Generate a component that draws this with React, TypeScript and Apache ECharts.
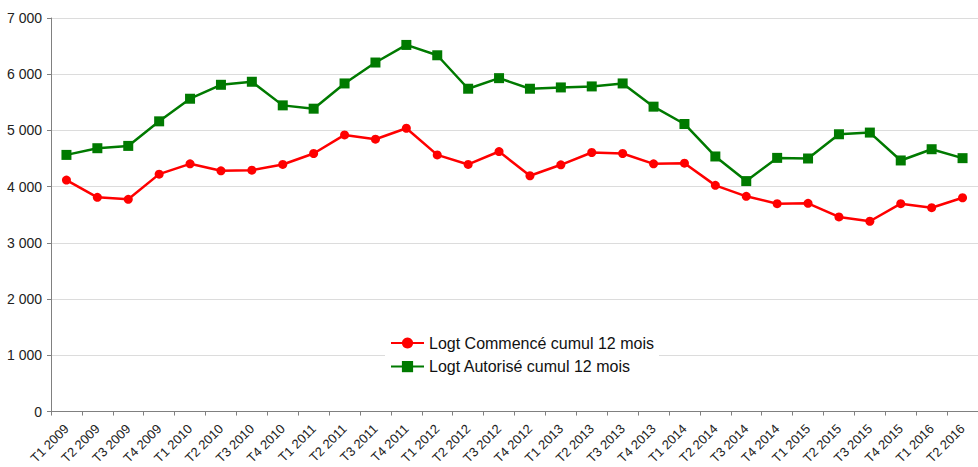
import React, { useEffect, useRef } from "react";
import * as echarts from "echarts";

const categories = [
  "T1 2009", "T2 2009", "T3 2009", "T4 2009",
  "T1 2010", "T2 2010", "T3 2010", "T4 2010",
  "T1 2011", "T2 2011", "T3 2011", "T4 2011",
  "T1 2012", "T2 2012", "T3 2012", "T4 2012",
  "T1 2013", "T2 2013", "T3 2013", "T4 2013",
  "T1 2014", "T2 2014", "T3 2014", "T4 2014",
  "T1 2015", "T2 2015", "T3 2015", "T4 2015",
  "T1 2016", "T2 2016",
];

const commence = [
  4117, 3810, 3775, 4223,
  4406, 4282, 4294, 4395,
  4590, 4920, 4844, 5039,
  4565, 4395, 4625, 4194,
  4389, 4608, 4590, 4406,
  4418, 4023, 3828, 3697,
  3703, 3461, 3385, 3697,
  3626, 3803,
];

const autorise = [
  4565, 4684, 4725, 5162,
  5564, 5812, 5866, 5446,
  5387, 5836, 6208, 6521,
  6337, 5742, 5930, 5742,
  5765, 5783, 5836, 5423,
  5115, 4537, 4099, 4512,
  4501, 4932, 4962, 4466,
  4666, 4507,
];

const seriesNames = ["Logt Commencé cumul 12 mois", "Logt Autorisé cumul 12 mois"];

const fmt = (v: number) => {
  const s = String(Math.round(v));
  return s.replace(/\B(?=(\d{3})+(?!\d))/g, " ");
};

export default function App() {
  const ref = useRef<HTMLDivElement>(null);
  useEffect(() => {
    if (!ref.current) return;
    const chart = echarts.init(ref.current, undefined, { renderer: "svg" });
    chart.setOption({
      animation: false,
      backgroundColor: "#ffffff",
      textStyle: { fontFamily: "Liberation Sans, Arial, sans-serif" },
      grid: { left: 51, top: 18, bottom: 54, right: -5, containLabel: false },
      legend: {
        orient: "vertical",
        left: 385,
        top: 332,
        itemWidth: 33,
        itemHeight: 14,
        itemGap: 7.6,
        padding: [3, 5, 3, 5],
        backgroundColor: "#ffffff",
        textStyle: { fontSize: 16, color: "#111", fontFamily: "Liberation Sans, Arial, sans-serif" },
        data: seriesNames,
      },
      xAxis: {
        type: "category",
        data: categories,
        boundaryGap: true,
        axisLine: { lineStyle: { color: "#808080", width: 1 } },
        axisTick: { show: true, alignWithLabel: false, length: 4, lineStyle: { color: "#808080" } },
        axisLabel: { rotate: 45, fontSize: 13, color: "#222", interval: 0, margin: 15 },
        splitLine: { show: false },
      },
      yAxis: {
        type: "value",
        min: 0,
        max: 7000,
        interval: 1000,
        axisLine: { show: true, lineStyle: { color: "#808080", width: 1 } },
        axisTick: { show: true, length: 4, lineStyle: { color: "#808080" } },
        axisLabel: { fontSize: 14, color: "#222", formatter: fmt, margin: 9 },
        splitLine: { show: true, lineStyle: { color: "#dcdcdc", width: 1 } },
      },
      series: [
        {
          name: seriesNames[0],
          type: "line",
          data: commence,
          symbol: "circle",
          symbolSize: 9,
          itemStyle: { color: "#ff0000" },
          lineStyle: { color: "#ff0000", width: 2.5 },
          z: 3,
        },
        {
          name: seriesNames[1],
          type: "line",
          data: autorise,
          symbol: "rect",
          symbolSize: 10,
          itemStyle: { color: "#007a00" },
          lineStyle: { color: "#007a00", width: 2.5 },
          z: 2,
        },
      ],
    });
    return () => chart.dispose();
  }, []);
  return <div ref={ref} style={{ width: 978, height: 467, position: "absolute", left: 0, top: 0 }} />;
}
